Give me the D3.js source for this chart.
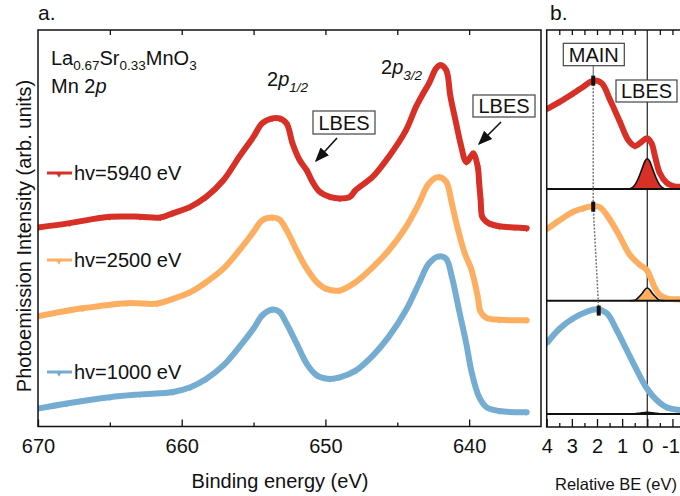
<!DOCTYPE html>
<html lang="en">
<head>
<meta charset="UTF-8">
<title>Mn 2p HAXPES</title>
<script src="https://d3js.org/d3.v7.min.js"></script>
<style>
  body { margin: 0; background: #fff; font-family: "Liberation Sans", Arial, sans-serif; }
  text { fill: #111; }
  .frame { fill: none; stroke: #111; stroke-width: 1.5px; }
  .axis path { display: none; }
  .axis line { stroke: #111; stroke-width: 1.3px; }
  .axis text { font-size: 20px; font-family: "Liberation Sans", Arial, sans-serif; fill: #111; }
  .box { fill: #fff; stroke: #444; stroke-width: 1.2px; }
</style>
</head>
<body>
<script>
// panel a: binding energy (eV) and intensity (arb. units, stacking offset included)
var beRed = [670.0,667.8,665.0,662.9,661.5,660.6,659.4,658.3,657.1,656.0,655.0,654.4,653.7,653.2,652.7,652.3,651.8,651.3,650.9,650.4,649.7,649.0,648.3,647.9,646.7,645.6,644.4,643.7,643.2,642.8,642.3,642.0,641.6,641.3,640.9,640.6,640.2,639.9,639.7,639.4,639.3,639.2,639.1,638.9,638.6,637.9,636.8,636.0];
var intRed = [50.2,51.3,52.9,52.9,52.7,53.8,55.4,57.9,62.1,68.0,73.1,76.5,77.7,77.7,76.4,71.5,67.2,64.6,61.7,59.2,57.9,57.5,57.9,59.6,63.0,68.0,74.7,80.6,84.0,86.5,90.3,91.2,89.9,83.2,76.4,71.4,66.7,68.0,68.9,65.5,61.3,57.1,53.0,52.0,51.2,50.5,50.2,50.0];

var beOrange = [670.0,666.9,663.8,661.7,660.6,659.4,658.3,657.1,656.0,655.0,654.4,653.7,653.2,652.7,652.0,651.3,650.6,650.0,649.0,647.9,646.7,645.6,644.4,643.5,642.8,642.1,641.6,641.2,640.8,640.3,639.9,639.7,639.4,639.2,638.8,637.9,636.0];
var intOrange = [27.8,29.8,31.1,31.0,32.2,33.9,36.4,39.8,44.4,49.1,52.0,52.7,52.2,49.5,44.4,39.8,36.4,34.8,34.3,36.4,40.2,44.4,50.3,56.2,61.3,62.9,61.7,56.2,50.0,43.6,40.2,37.7,32.7,28.9,27.4,26.9,26.8];

var beBlue = [670.0,668.0,665.0,662.9,660.6,659.4,658.3,657.1,656.0,655.0,654.4,653.7,653.2,652.7,652.0,651.3,650.6,649.7,649.0,647.9,646.7,645.6,644.4,643.5,642.8,642.1,641.6,641.2,640.7,640.2,639.8,639.3,638.8,637.9,636.0];
var intBlue = [4.5,5.8,7.4,8.1,8.7,9.9,12.0,15.4,20.0,24.7,28.0,29.5,28.9,25.9,20.9,15.8,12.9,12.0,12.4,14.1,17.9,22.6,29.3,36.0,41.1,42.9,42.3,37.7,29.3,20.9,13.3,7.4,4.9,3.9,3.6];

var seriesLabels = ['hv=5940 eV', 'hv=2500 eV', 'hv=1000 eV'];
var colors = ['#d73027', '#fdae61', '#74add1'];

// panel b: relative BE (eV) and normalised intensity
var relRed = [4.0,3.47,2.94,2.54,2.15,1.81,1.48,1.09,0.76,0.49,0.22,0.02,-0.17,-0.31,-0.50,-0.77,-1.03,-1.30];
var normRed = [0.725,0.794,0.870,0.930,0.985,0.961,0.809,0.612,0.445,0.391,0.430,0.461,0.415,0.294,0.143,0.057,0.027,0.021];
var relOrange = [4.0,3.47,2.94,2.54,2.15,1.88,1.48,1.09,0.69,0.29,0.02,-0.17,-0.31,-0.50,-0.77,-1.30];
var normOrange = [0.649,0.734,0.809,0.840,0.861,0.849,0.734,0.582,0.415,0.325,0.279,0.188,0.113,0.052,0.022,0.013];
var relBlue = [4.0,3.47,2.94,2.41,2.01,1.61,1.22,0.82,0.42,0.02,-0.37,-0.77,-1.30];
var normBlue = [0.643,0.779,0.870,0.930,0.952,0.915,0.764,0.582,0.400,0.234,0.127,0.061,0.036];

// LBES fitted components
var relFit = [0.7,0.5,0.35,0.2,0.1,0,-0.1,-0.2,-0.35,-0.5,-0.7];
var fitRed = [0,0.035,0.10,0.19,0.25,0.275,0.25,0.19,0.10,0.035,0];
var fitOrange = [0,0.004,0.03,0.068,0.1,0.115,0.1,0.068,0.03,0.004,0];
var fitBlue = [0,0.002,0.006,0.011,0.014,0.015,0.014,0.011,0.006,0.002,0];

// MAIN peak positions [relative BE, intensity]
var mainRel = [2.15, 2.15, 1.93];
var mainNorm = [0.985, 0.855, 0.94];

var zip = function(a, b){ return a.map(function(d, i){ return [d, b[i]]; }); };

var svg = d3.select('body').append('svg').attr('width', 680).attr('height', 496);

var xA = d3.scaleLinear().domain([670, 635]).range([38, 541]);
var yA = d3.scaleLinear().domain([0, 100]).range([426.5, 30]);
var xB = d3.scaleLinear().domain([4, -1.4]).range([546.7, 682.5]);
var baseB = [189, 300.7, 414];
var yB = baseB.map(function(b){ return d3.scaleLinear().domain([0, 1]).range([b, b - 110]); });

var defs = svg.append('defs');
defs.append('clipPath').attr('id', 'clipA').append('rect')
  .attr('x', 38).attr('y', 30).attr('width', 503).attr('height', 396.5);
defs.append('clipPath').attr('id', 'clipB').append('rect')
  .attr('x', 546.7).attr('y', 30).attr('width', 140).attr('height', 397);
defs.append('marker').attr('id', 'arrow')
  .attr('viewBox', '0 0 10 10').attr('refX', 9).attr('refY', 5)
  .attr('markerWidth', 9).attr('markerHeight', 9).attr('orient', 'auto')
  .append('path').attr('d', 'M0,1 L10,5 L0,9 Z').attr('fill', '#111');

var tri = d3.symbol().type(d3.symbolTriangle).size(15);

// ---------- panel a ----------
var specA = [zip(beRed, intRed), zip(beOrange, intOrange), zip(beBlue, intBlue)];
var lineA = d3.line().x(function(d){ return xA(d[0]); }).y(function(d){ return yA(d[1]); })
  .curve(d3.curveCatmullRom.alpha(0.5));

var gA = svg.append('g').attr('clip-path', 'url(#clipA)');
specA.forEach(function(s, i){
  gA.append('path').datum(s).attr('d', lineA)
    .attr('fill', 'none').attr('stroke', colors[i]).attr('stroke-width', 6)
    .attr('stroke-linejoin', 'round').attr('stroke-linecap', 'round');
  gA.selectAll('.m' + i).data(s).enter().append('path')
    .attr('d', tri).attr('fill', colors[i])
    .attr('transform', function(d){ return 'translate(' + xA(d[0]) + ',' + (yA(d[1]) + 0.5) + ') rotate(180)'; });
});

svg.append('rect').attr('class', 'frame').attr('x', 38).attr('y', 30).attr('width', 503).attr('height', 396.5);

svg.append('g').attr('class', 'axis').attr('transform', 'translate(0,426.5)')
  .call(d3.axisBottom(xA).tickValues([670, 660, 650, 640]).tickSizeInner(-7).tickSizeOuter(0).tickPadding(12));
svg.append('g').attr('class', 'axis').attr('transform', 'translate(0,426.5)')
  .call(d3.axisBottom(xA).tickValues([665, 655, 645]).tickSizeInner(-4).tickSizeOuter(0).tickFormat(''));
svg.append('g').attr('class', 'axis').attr('transform', 'translate(0,30)')
  .call(d3.axisTop(xA).tickValues([665, 660, 655, 650, 645, 640]).tickSizeInner(-5).tickSizeOuter(0).tickFormat(''));

svg.append('text').attr('x', 280).attr('y', 488).attr('text-anchor', 'middle')
  .style('font-size', '20px').text('Binding energy (eV)');
svg.append('text').attr('transform', 'rotate(-90)').attr('x', -236).attr('y', 31)
  .attr('text-anchor', 'middle').style('font-size', '20px')
  .text('Photoemission Intensity (arb. units)');

svg.append('text').attr('x', 38).attr('y', 20).style('font-size', '21px').text('a.');
svg.append('text').attr('x', 550).attr('y', 20).style('font-size', '21px').text('b.');

// sample label
var t1 = svg.append('text').attr('x', 51).attr('y', 65).style('font-size', '20px');
[['La', 0], ['0.67', 1], ['Sr', 0], ['0.33', 1], ['MnO', 0], ['3', 1]].forEach(function(p, k, arr){
  var prevSub = k > 0 && arr[k - 1][1];
  t1.append('tspan').text(p[0])
    .attr('dy', p[1] ? 5 : (prevSub ? -5 : 0))
    .style('font-size', p[1] ? '13.5px' : '20px');
});
var t2 = svg.append('text').attr('x', 51).attr('y', 93).style('font-size', '20px');
t2.append('tspan').text('Mn 2');
t2.append('tspan').text('p').style('font-style', 'italic');

function orbital(x, y, sub){
  var t = svg.append('text').attr('x', x).attr('y', y).style('font-size', '20px');
  t.append('tspan').text('2');
  t.append('tspan').text('p').style('font-style', 'italic');
  t.append('tspan').text(sub).attr('dy', 6).style('font-style', 'italic').style('font-size', '13.5px');
}
orbital(267, 86, '1/2');
orbital(381, 74, '3/2');

function labelBox(x, y, w, h, txt){
  svg.append('rect').attr('class', 'box').attr('x', x).attr('y', y).attr('width', w).attr('height', h);
  svg.append('text').attr('x', x + w / 2).attr('y', y + h / 2 + 7.3)
    .attr('text-anchor', 'middle').style('font-size', '20px').text(txt);
}
labelBox(313, 111, 62, 23, 'LBES');
labelBox(473, 95, 62, 22, 'LBES');
[[337, 138, 316, 161], [501, 122, 479, 144]].forEach(function(a){
  svg.append('line').attr('x1', a[0]).attr('y1', a[1]).attr('x2', a[2]).attr('y2', a[3])
    .attr('stroke', '#111').attr('stroke-width', 1.6).attr('marker-end', 'url(#arrow)');
});

// legend
var legY = [173, 260, 372];
legY.forEach(function(ly, i){
  svg.append('line').attr('x1', 47).attr('x2', 72).attr('y1', ly).attr('y2', ly)
    .attr('stroke', colors[i]).attr('stroke-width', 3);
  svg.append('path').attr('d', d3.symbol().type(d3.symbolTriangle).size(18))
    .attr('fill', colors[i]).attr('transform', 'translate(59,' + (ly + 1) + ') rotate(180)');
  svg.append('text').attr('x', 74).attr('y', ly + 7).style('font-size', '20px').text(seriesLabels[i]);
});

// ---------- panel b ----------
var specB = [zip(relRed, normRed), zip(relOrange, normOrange), zip(relBlue, normBlue)];
var fits = [zip(relFit, fitRed), zip(relFit, fitOrange), zip(relFit, fitBlue)];

var gB = svg.append('g').attr('clip-path', 'url(#clipB)');
gB.append('line').attr('x1', xB(0)).attr('x2', xB(0)).attr('y1', 30).attr('y2', 427)
  .attr('stroke', '#333').attr('stroke-width', 1.3);

specB.forEach(function(s, i){
  var line = d3.line().x(function(d){ return xB(d[0]); }).y(function(d){ return yB[i](d[1]); })
    .curve(d3.curveCatmullRom.alpha(0.5));
  gB.append('path').datum(s).attr('d', line)
    .attr('fill', 'none').attr('stroke', colors[i]).attr('stroke-width', 6)
    .attr('stroke-linejoin', 'round');
  gB.selectAll('.mb' + i).data(s).enter().append('path')
    .attr('d', tri).attr('fill', colors[i])
    .attr('transform', function(d){ return 'translate(' + xB(d[0]) + ',' + (yB[i](d[1]) + 0.5) + ') rotate(180)'; });

  var area = d3.area().x(function(d){ return xB(d[0]); })
    .y0(baseB[i]).y1(function(d){ return yB[i](d[1]); }).curve(d3.curveMonotoneX);
  gB.append('path').datum(fits[i]).attr('d', area).attr('fill', colors[i]);
  gB.append('path').datum(fits[i]).attr('d', area.lineY1())
    .attr('fill', 'none').attr('stroke', '#111').attr('stroke-width', 1.6);

  gB.append('line').attr('x1', 546.7).attr('x2', 690).attr('y1', baseB[i]).attr('y2', baseB[i])
    .attr('stroke', '#111').attr('stroke-width', 2);
});

// MAIN position guide
var mainPts = mainRel.map(function(r, i){ return [xB(r), yB[i](mainNorm[i])]; });
svg.append('line').attr('x1', mainPts[0][0]).attr('x2', mainPts[0][0]).attr('y1', 65.7).attr('y2', mainPts[0][1])
  .attr('stroke', '#555').attr('stroke-width', 1);
svg.append('path').attr('d', d3.line()(mainPts))
  .attr('fill', 'none').attr('stroke', '#777').attr('stroke-width', 1.5).attr('stroke-dasharray', '2,1.5');
mainPts.forEach(function(p){
  svg.append('rect').attr('x', p[0] - 2).attr('y', p[1] - 5).attr('width', 4).attr('height', 10).attr('fill', '#111');
});

svg.append('rect').attr('class', 'frame').attr('x', 546.7).attr('y', 30).attr('width', 140).attr('height', 397);

svg.append('g').attr('class', 'axis').attr('transform', 'translate(0,427)')
  .call(d3.axisBottom(xB).tickValues([4, 3, 2, 1, 0, -1]).tickSizeInner(-8).tickSizeOuter(0).tickPadding(12)
    .tickFormat(function(d){ return String(d); }))
  .selectAll('text').attr('dx', function(d){ return d < 0 ? -2 : 0; });
svg.append('g').attr('class', 'axis').attr('transform', 'translate(0,427)')
  .call(d3.axisBottom(xB).tickValues([3.5, 2.5, 1.5, 0.5, -0.5]).tickSizeInner(-4).tickSizeOuter(0).tickFormat(''));
svg.append('g').attr('class', 'axis').attr('transform', 'translate(0,30)')
  .call(d3.axisTop(xB).tickValues([3.5, 3, 2.5, 2, 1.5, 1, 0.5, -0.5, -1]).tickSizeInner(-5).tickSizeOuter(0).tickFormat(''));

svg.append('text').attr('x', 616).attr('y', 490).attr('text-anchor', 'middle')
  .style('font-size', '16.5px').text('Relative BE (eV)');

labelBox(563.3, 43.3, 61, 22.4, 'MAIN');
labelBox(616, 80, 61, 22, 'LBES');
</script>
</body>
</html>
